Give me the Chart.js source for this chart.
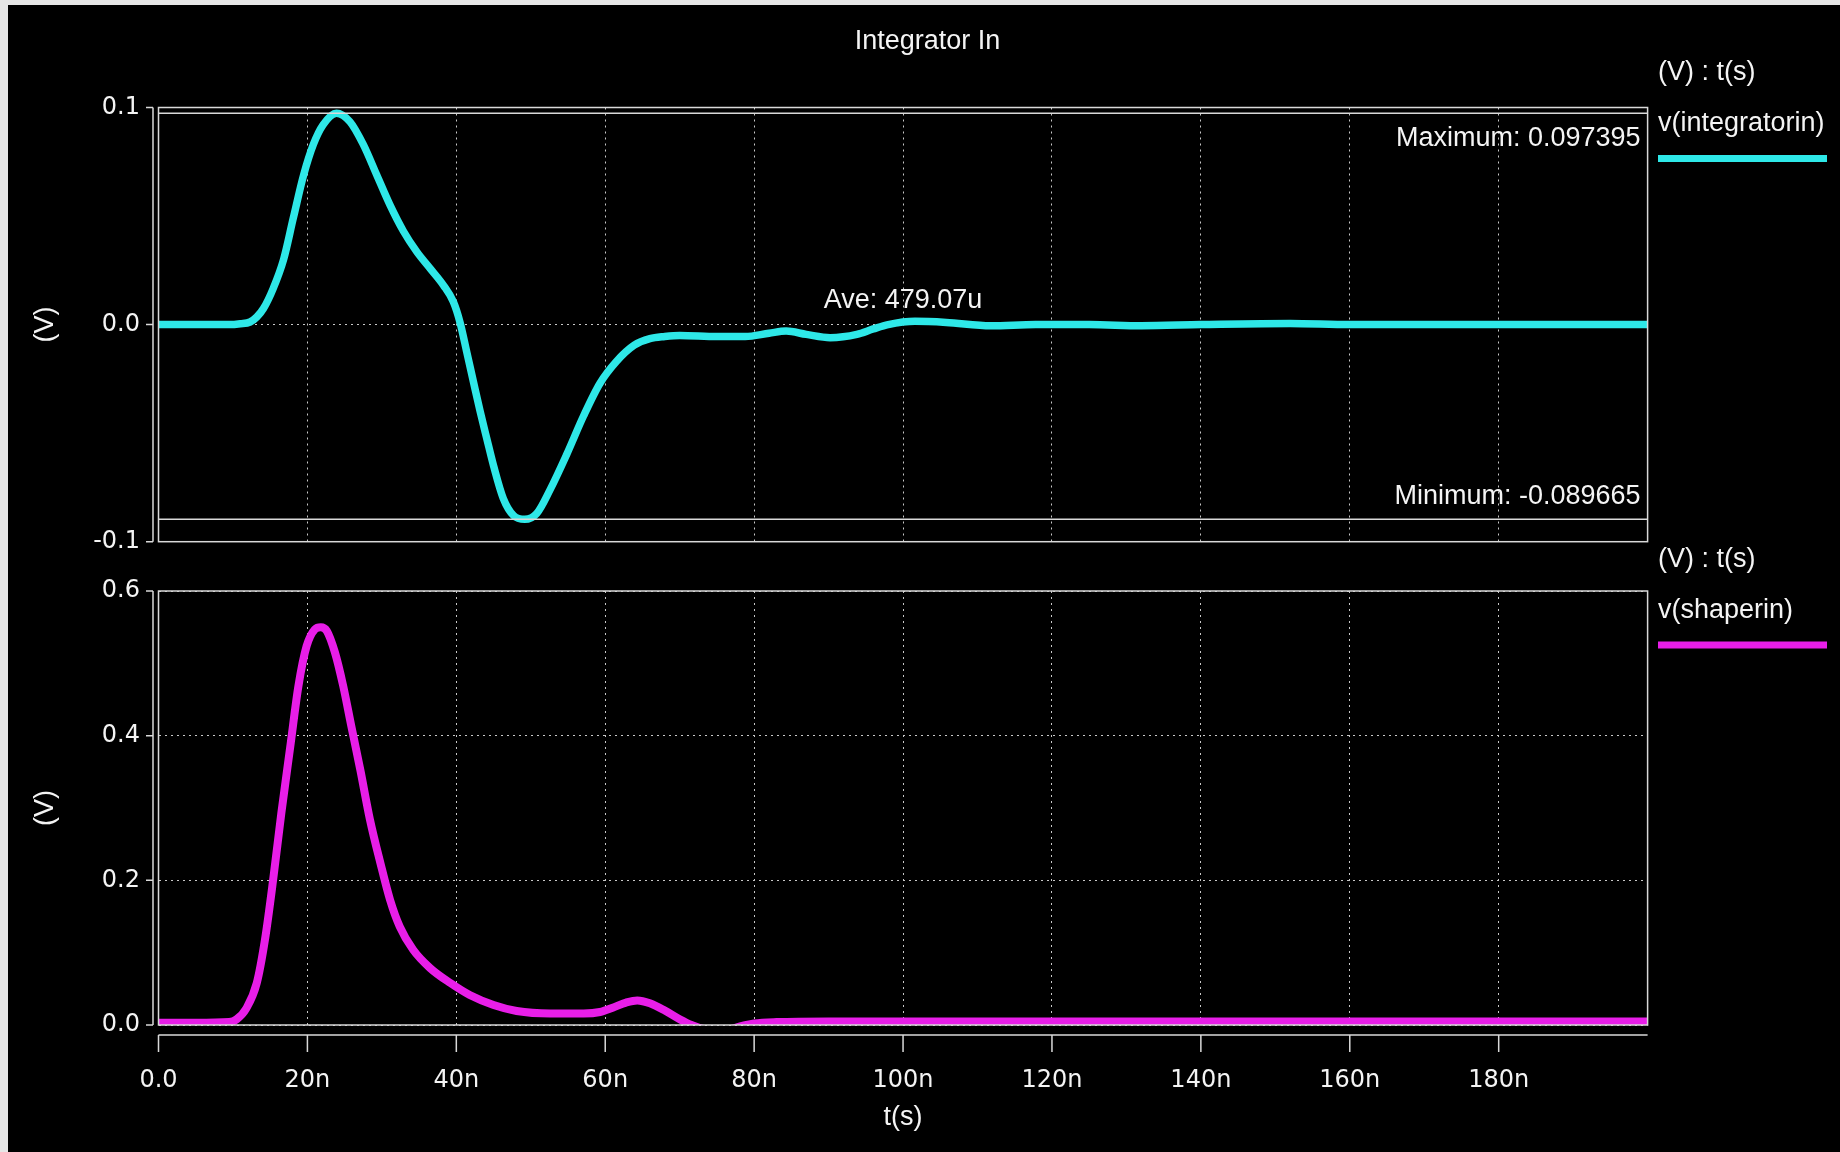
<!DOCTYPE html>
<html>
<head>
<meta charset="utf-8">
<script src="https://cdn.jsdelivr.net/npm/chart.js@4.4.1/dist/chart.umd.min.js"></script>
<style>
  html, body { margin: 0; padding: 0; background: #e6e6e6; overflow: hidden; }
  #wrap { position: relative; width: 1840px; height: 1152px; background: #e6e6e6; }
  #blk { position: absolute; left: 8px; top: 5px; right: 0; bottom: 0; background: #000; }
  canvas { position: absolute; left: 0; top: 0; }
</style>
</head>
<body>
<div id="wrap">
  <div id="blk"></div>
  <canvas id="c1" width="1840" height="1152" style="width:1840px;height:1152px"></canvas>
  <canvas id="c2" width="1840" height="1152" style="width:1840px;height:1152px"></canvas>
</div>
<script>
// ---------------- DATA ----------------
const xTickValues = [0, 20, 40, 60, 80, 100, 120, 140, 160, 180];
const xTickLabels = ['0.0', '20n', '40n', '60n', '80n', '100n', '120n', '140n', '160n', '180n'];
const yTopTickValues = [-0.1, 0, 0.1];
const yTopTickLabels = ['-0.1', '0.0', '0.1'];
const yBotTickValues = [0, 0.2, 0.4, 0.6];
const yBotTickLabels = ['0.0', '0.2', '0.4', '0.6'];

// v(integratorin): time in ns, value in V
const integT = [0, 5, 9.5, 11, 12.3, 13.2, 14.1, 15.4, 16.8, 18.1, 19.5, 20.8, 22.1, 23.9, 25.7, 27.5, 29.3, 31.1, 32.9, 34.7, 36.5, 38.3, 39.6, 40.5, 41.4, 42.3, 43.2, 44.1, 45.0, 46.3, 47.7, 49.2, 50.8, 52.6, 54.8, 57.1, 59.3, 61.5, 63.9, 66, 68, 70, 75, 78.8, 82, 84.3, 87, 90.2, 93.8, 96, 98, 101.6, 105.8, 111.8, 117.8, 125, 132, 140, 152, 160, 200];
const integV = [0, 0, 0, 0.0004, 0.0012, 0.0035, 0.0074, 0.0166, 0.030, 0.049, 0.069, 0.083, 0.092, 0.0974, 0.0935, 0.083, 0.069, 0.055, 0.043, 0.0335, 0.0258, 0.018, 0.0105, 0.001, -0.0126, -0.0264, -0.040, -0.0526, -0.065, -0.080, -0.088, -0.0897, -0.087, -0.076, -0.060, -0.042, -0.027, -0.017, -0.0095, -0.0065, -0.0055, -0.005, -0.0055, -0.0055, -0.004, -0.003, -0.0045, -0.006, -0.0045, -0.002, 0, 0.0015, 0.001, -0.0005, 0, 0, -0.0005, 0, 0.0005, 0, 0];

// v(shaperin): time in ns, value in V
const shaperT = [0, 5, 9.5, 10.5, 11.8, 13.2, 14.3, 15.4, 16.5, 17.7, 18.8, 19.9, 21.0, 21.8, 22.6, 23.7, 24.8, 25.9, 27.1, 28.4, 29.8, 31.1, 32.4, 34.2, 36.5, 39.2, 41.8, 45, 48.1, 52.6, 57.1, 59.3, 61, 62.8, 64.3, 66, 68, 70, 71.6, 73.5, 76, 78.5, 80, 83, 90, 120, 160, 200];
const shaperV = [0.003, 0.003, 0.004, 0.008, 0.023, 0.058, 0.118, 0.201, 0.293, 0.385, 0.469, 0.524, 0.547, 0.550, 0.545, 0.515, 0.469, 0.413, 0.353, 0.284, 0.224, 0.173, 0.136, 0.104, 0.0785, 0.058, 0.0415, 0.0277, 0.0194, 0.016, 0.016, 0.018, 0.024, 0.031, 0.034, 0.030, 0.020, 0.008, 0.0, -0.006, -0.007, -0.001, 0.002, 0.004, 0.005, 0.005, 0.005, 0.005];

const integMax = 0.097395;
const integMin = -0.089665;
const integAveLabel = 'Ave: 479.07u';
const integAve = 479.07e-6;

// ---------------- STYLE ----------------
const CYAN = '#2ee8e8';
const MAGENTA = '#e81ee8';
const TEXT = '#f4f4f4';
const BOX = '#d9d9d9';
const GRID = '#c8c8c8';
const TICK_FONT = { family: "'DejaVu Sans', sans-serif", size: 24 };
const LABEL_FONT_CSS = "27px 'Liberation Sans', Arial, sans-serif";
const LABEL_FONT = { family: "'Liberation Sans', Arial, sans-serif", size: 27 };

const PLOT_LEFT = 158.5, PLOT_RIGHT_PAD = 192.4;
const TOP_AREA_TOP = 107.5, TOP_AREA_BOTTOM = 541.7;
const BOT_AREA_TOP = 591, BOT_AREA_BOTTOM = 1025;
const H = 1152;

function pts(ts, vs) { return ts.map((t, i) => ({ x: t, y: vs[i] })); }

function drawFrame(chart, yVals) {
  const { ctx, chartArea: a, scales } = chart;
  const y = scales.y;
  ctx.save();
  ctx.strokeStyle = BOX;
  ctx.lineWidth = 1.5;
  ctx.strokeRect(a.left, a.top, a.right - a.left, a.bottom - a.top);
  const ax = a.left - 5.5;
  const p0 = y.getPixelForValue(Math.min(...yVals));
  const p1 = y.getPixelForValue(Math.max(...yVals));
  ctx.beginPath();
  ctx.moveTo(ax, p0); ctx.lineTo(ax, p1);
  yVals.forEach(v => { const p = y.getPixelForValue(v); ctx.moveTo(ax - 7, p); ctx.lineTo(ax, p); });
  ctx.stroke();
  ctx.restore();
}

function text(ctx, s, x, y, align) {
  ctx.font = LABEL_FONT_CSS;
  ctx.fillStyle = TEXT;
  ctx.textAlign = align;
  ctx.textBaseline = 'alphabetic';
  ctx.fillText(s, x, y);
}

const topDecor = {
  id: 'topDecor',
  afterDraw(chart) {
    const { ctx, chartArea: a, scales } = chart;
    const y = scales.y;
    drawFrame(chart, yTopTickValues);
    ctx.save();
    ctx.strokeStyle = BOX; ctx.lineWidth = 1.5;
    [integMax, integMin].forEach(v => {
      const p = y.getPixelForValue(v);
      ctx.beginPath(); ctx.moveTo(a.left, p); ctx.lineTo(a.right, p); ctx.stroke();
    });
    text(ctx, 'Maximum: ' + integMax.toFixed(6), a.right - 7, y.getPixelForValue(integMax) + 33, 'right');
    text(ctx, 'Minimum: ' + integMin.toFixed(6), a.right - 7, y.getPixelForValue(integMin) - 15.5, 'right');
    text(ctx, integAveLabel, (a.left + a.right) / 2, y.getPixelForValue(integAve) - 16, 'center');
    text(ctx, 'Integrator In', 927.5, 49.3, 'center');
    text(ctx, '(V) : t(s)', 1658, 80, 'left');
    text(ctx, chart.data.datasets[0].label, 1658, 131, 'left');
    ctx.fillStyle = CYAN;
    ctx.fillRect(1658, 155, 169, 7);
    ctx.restore();
  }
};

const botDecor = {
  id: 'botDecor',
  afterDraw(chart) {
    const { ctx, chartArea: a, scales } = chart;
    const x = scales.x;
    drawFrame(chart, yBotTickValues);
    ctx.save();
    ctx.strokeStyle = BOX; ctx.lineWidth = 1.5;
    const axY = a.bottom + 10;
    ctx.beginPath();
    ctx.moveTo(a.left, axY); ctx.lineTo(a.right, axY);
    xTickValues.forEach(v => { const p = x.getPixelForValue(v); ctx.moveTo(p, axY); ctx.lineTo(p, axY + 17); });
    ctx.stroke();
    text(ctx, '(V) : t(s)', 1658, 567, 'left');
    text(ctx, chart.data.datasets[0].label, 1658, 618, 'left');
    ctx.fillStyle = MAGENTA;
    ctx.fillRect(1658, 641.5, 169, 7);
    ctx.restore();
  }
};

function setTicks(values) { return s => { s.ticks = values.map(v => ({ value: v })); }; }

const common = {
  responsive: false,
  animation: false,
  events: [],
  plugins: { legend: { display: false }, tooltip: { enabled: false } }
};

new Chart(document.getElementById('c1'), {
  type: 'line',
  data: {
    datasets: [{
      label: 'v(integratorin)',
      data: pts(integT, integV),
      borderColor: CYAN,
      borderWidth: 7.5,
      pointRadius: 0,
      cubicInterpolationMode: 'monotone',
      clip: 0
    }]
  },
  options: Object.assign({}, common, {
    layout: { padding: { left: 0, top: TOP_AREA_TOP, right: PLOT_RIGHT_PAD, bottom: 0 } },
    scales: {
      x: {
        type: 'linear', min: 0, max: 200,
        afterBuildTicks: setTicks(xTickValues),
        afterFit: s => { s.height = H - TOP_AREA_BOTTOM; },
        ticks: { display: false },
        grid: { color: GRID, lineWidth: 1, drawTicks: false },
        border: { display: false, dash: [2, 4] }
      },
      y: {
        type: 'linear', min: -0.1, max: 0.1,
        afterBuildTicks: setTicks(yTopTickValues),
        afterFit: s => { s.width = PLOT_LEFT; },
        ticks: { font: TICK_FONT, color: TEXT, padding: 18.5, callback: (v, i) => yTopTickLabels[i] },
        grid: { color: GRID, lineWidth: 1, drawTicks: false },
        border: { display: false, dash: [2, 4] },
        title: { display: true, text: '(V)', font: LABEL_FONT, color: TEXT, padding: { top: 29.3, bottom: 0 } }
      }
    }
  }),
  plugins: [topDecor]
});

new Chart(document.getElementById('c2'), {
  type: 'line',
  data: {
    datasets: [{
      label: 'v(shaperin)',
      data: pts(shaperT, shaperV),
      borderColor: MAGENTA,
      borderWidth: 8,
      pointRadius: 0,
      cubicInterpolationMode: 'monotone',
      clip: 0
    }]
  },
  options: Object.assign({}, common, {
    layout: { padding: { left: 0, top: BOT_AREA_TOP, right: PLOT_RIGHT_PAD, bottom: 0 } },
    scales: {
      x: {
        type: 'linear', min: 0, max: 200,
        afterBuildTicks: setTicks(xTickValues),
        afterFit: s => { s.height = H - BOT_AREA_BOTTOM; },
        ticks: { font: TICK_FONT, color: TEXT, padding: 41.6, maxRotation: 0, autoSkip: false, callback: (v, i) => xTickLabels[i] },
        grid: { color: GRID, lineWidth: 1, drawTicks: false },
        border: { display: false, dash: [2, 4] },
        title: { display: true, text: 't(s)', font: LABEL_FONT, color: TEXT, padding: { top: 0, bottom: 17.8 } }
      },
      y: {
        type: 'linear', min: 0, max: 0.6,
        afterBuildTicks: setTicks(yBotTickValues),
        afterFit: s => { s.width = PLOT_LEFT; },
        ticks: { font: TICK_FONT, color: TEXT, padding: 18.5, callback: (v, i) => yBotTickLabels[i] },
        grid: { color: GRID, lineWidth: 1, drawTicks: false },
        border: { display: false, dash: [2, 4] },
        title: { display: true, text: '(V)', font: LABEL_FONT, color: TEXT, padding: { top: 29.3, bottom: 0 } }
      }
    }
  }),
  plugins: [botDecor]
});
</script>
</body>
</html>
